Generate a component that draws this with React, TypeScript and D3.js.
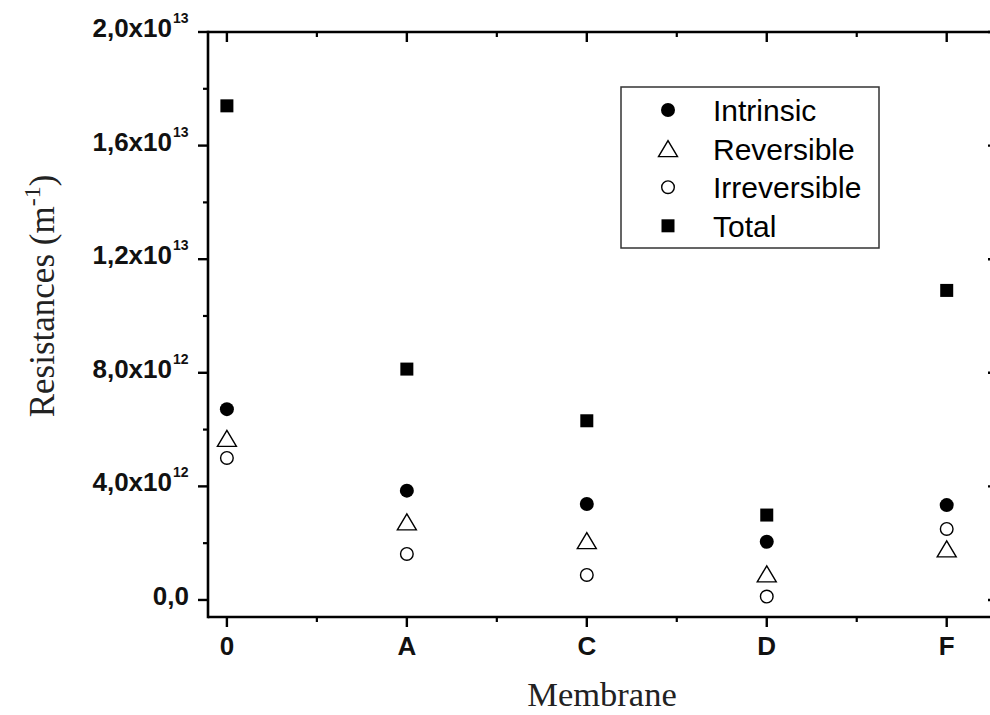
import React from "react";
import * as d3 from "d3";

// values (m^-1)
const membranes = ["0", "A", "C", "D", "F"];
const intrinsic = [6.72e12, 3.85e12, 3.38e12, 2.05e12, 3.34e12];
const reversible = [5.69e12, 2.75e12, 2.09e12, 0.92e12, 1.8e12];
const irreversible = [5.0e12, 1.62e12, 0.88e12, 0.12e12, 2.5e12];
const total = [17.4e12, 8.13e12, 6.31e12, 2.99e12, 10.9e12];

const yTicks = [0, 4e12, 8e12, 1.2e13, 1.6e13, 2e13];
const yTickMantissa = ["0,0", "4,0", "8,0", "1,2", "1,6", "2,0"];
const yTickExponent = ["", "12", "12", "13", "13", "13"];
const yMinor = [2e12, 6e12, 1e13, 1.4e13, 1.8e13];
const xMinor = [0.5, 1.5, 2.5, 3.5];

const legendLabels = ["Intrinsic", "Reversible", "Irreversible", "Total"];
const series = [
  { key: "intrinsic", values: intrinsic },
  { key: "reversible", values: reversible },
  { key: "irreversible", values: irreversible },
  { key: "total", values: total },
];

const width = 990;
const height = 715;
const plot = { left: 208, right: 998, top: 32, bottom: 617 };

const sans = "'Liberation Sans', Arial, sans-serif";
const serif = "'Liberation Serif', 'Times New Roman', serif";

function Marker({ type, x, y }) {
  if (type === "intrinsic") {
    return <circle cx={x} cy={y} r={7} fill="#000" />;
  }
  if (type === "irreversible") {
    return <circle cx={x} cy={y} r={6.3} fill="#fff" stroke="#000" strokeWidth={1.4} />;
  }
  if (type === "reversible") {
    const w = 19;
    const h = 16;
    const p = d3.path();
    p.moveTo(x, y - h / 2);
    p.lineTo(x + w / 2, y + h / 2);
    p.lineTo(x - w / 2, y + h / 2);
    p.closePath();
    return <path d={p.toString()} fill="#fff" stroke="#000" strokeWidth={1.4} />;
  }
  return <rect x={x - 6.5} y={y - 6.5} width={13} height={13} fill="#000" />;
}

export default function App() {
  const x = d3.scaleLinear().domain([-0.105, 4.285]).range([plot.left, plot.right]);
  const y = d3.scaleLinear().domain([-0.6e12, 2.0e13]).range([plot.bottom, plot.top]);

  const axisW = 2.6;

  return (
    <svg
      width={width}
      height={height}
      style={{ position: "absolute", left: 0, top: 0, background: "#fff" }}
    >
      {/* frame */}
      <line x1={plot.left} x2={plot.right} y1={plot.bottom} y2={plot.bottom} stroke="#000" strokeWidth={axisW} />
      <line x1={plot.left} x2={plot.right} y1={plot.top} y2={plot.top} stroke="#000" strokeWidth={axisW} />
      <line x1={plot.left} x2={plot.left} y1={plot.top - 1.3} y2={plot.bottom + 1.3} stroke="#000" strokeWidth={axisW} />
      <line x1={plot.right} x2={plot.right} y1={plot.top} y2={plot.bottom} stroke="#000" strokeWidth={axisW} />

      {/* y ticks */}
      {yTicks.map((t, i) => (
        <g key={"yt" + i}>
          <line x1={plot.left - 10} x2={plot.left} y1={y(t)} y2={y(t)} stroke="#000" strokeWidth={2.4} />
          <line x1={plot.right - 10} x2={plot.right} y1={y(t)} y2={y(t)} stroke="#000" strokeWidth={2.4} />
          <text
            x={yTickExponent[i] ? 172 : 189}
            y={y(t) + 5}
            textAnchor="end"
            fontFamily={sans}
            fontWeight="bold"
            fontSize={26}
            fill="#111"
          >
            {yTickMantissa[i] + (yTickExponent[i] ? "x10" : "")}
          </text>
          {yTickExponent[i] && (
            <text x={173} y={y(t) - 9} fontFamily={sans} fontWeight="bold" fontSize={14} fill="#111">
              {yTickExponent[i]}
            </text>
          )}
        </g>
      ))}
      {yMinor.map((t, i) => (
        <g key={"ym" + i}>
          <line x1={plot.left - 5} x2={plot.left} y1={y(t)} y2={y(t)} stroke="#000" strokeWidth={2.2} />
          <line x1={plot.right - 5} x2={plot.right} y1={y(t)} y2={y(t)} stroke="#000" strokeWidth={2.2} />
        </g>
      ))}

      {/* x ticks */}
      {membranes.map((m, i) => (
        <g key={"xt" + i}>
          <line x1={x(i)} x2={x(i)} y1={plot.bottom} y2={plot.bottom + 10} stroke="#000" strokeWidth={2.4} />
          <line x1={x(i)} x2={x(i)} y1={plot.top} y2={plot.top + 10} stroke="#000" strokeWidth={2.4} />
          <text x={x(i)} y={655} textAnchor="middle" fontFamily={sans} fontWeight="bold" fontSize={26} fill="#111">
            {m}
          </text>
        </g>
      ))}
      {xMinor.map((t, i) => (
        <g key={"xm" + i}>
          <line x1={x(t)} x2={x(t)} y1={plot.bottom} y2={plot.bottom + 5} stroke="#000" strokeWidth={2.2} />
          <line x1={x(t)} x2={x(t)} y1={plot.top} y2={plot.top + 5} stroke="#000" strokeWidth={2.2} />
        </g>
      ))}

      {/* points */}
      {series.map((s) =>
        s.values.map((v, i) => <Marker key={s.key + i} type={s.key} x={x(i)} y={y(v)} />)
      )}

      {/* legend */}
      <rect x={621} y={87} width={258} height={161} fill="#fff" stroke="#333" strokeWidth={1.5} />
      {series.map((s, i) => (
        <g key={"lg" + i}>
          <Marker type={s.key} x={668} y={110 + i * 38.6} />
          <text x={713} y={121 + i * 38.6} fontFamily={sans} fontSize={30} fill="#000">
            {legendLabels[i]}
          </text>
        </g>
      ))}

      {/* axis titles */}
      <text x={602} y={706} textAnchor="middle" fontFamily={serif} fontSize={34.5} fill="#222">
        Membrane
      </text>
      <text
        transform="translate(54,296) rotate(-90)"
        textAnchor="middle"
        fontFamily={serif}
        fontSize={35}
        fill="#222"
      >
        Resistances (m
        <tspan fontSize={24} dy={-14}>-1</tspan>
        <tspan dy={14}>)</tspan>
      </text>
    </svg>
  );
}
